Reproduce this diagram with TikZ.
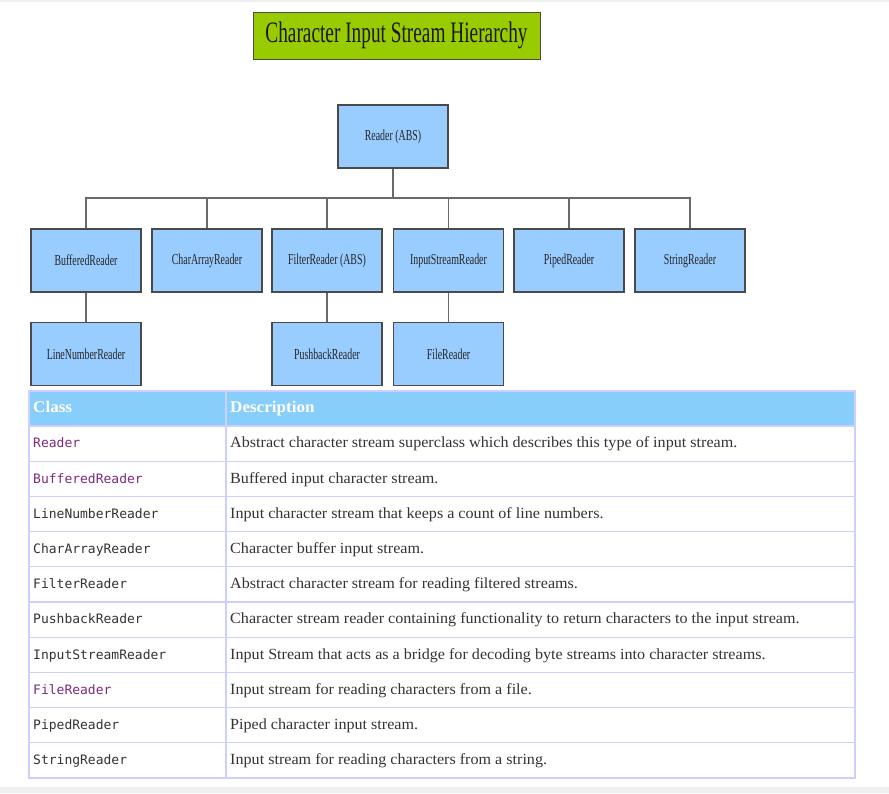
\documentclass[tikz,border=0pt]{standalone}
\usepackage{fontspec}
\setmainfont{Liberation Serif}
\newfontfamily\narrowfont[FakeStretch=0.65]{Liberation Serif}
\newfontfamily\widefont[FakeStretch=1.04]{Liberation Serif}
\newfontfamily\codefont{DejaVu Sans Mono}
\definecolor{titlefill}{HTML}{99CC00}
\definecolor{boxfill}{HTML}{99CCFF}
\definecolor{boxline}{HTML}{4A4A4A}
\definecolor{linkgray}{HTML}{6A6A6A}
\definecolor{headfill}{HTML}{87CEFA}
\definecolor{gridline}{HTML}{CFCFFF}
\definecolor{visited}{HTML}{7D2A7D}
\definecolor{bodytext}{HTML}{333333}
\definecolor{stripgray}{HTML}{EFEFEF}
\tikzset{
  titlebox/.style={draw=boxline, fill=titlefill, line width=1pt, minimum width=287pt, minimum height=47pt, inner sep=0pt, font=\narrowfont\fontsize{29.7}{32}\selectfont, text=black!90},
  classbox/.style={draw=boxline, fill=boxfill, line width=1.1pt, minimum width=110pt, minimum height=63pt, inner sep=0pt, font=\narrowfont\fontsize{15.2}{17}\selectfont, text=black!85},
  link/.style={draw=linkgray, line width=1.8pt},
  headtext/.style={anchor=base west, inner sep=0pt, text=white, font=\widefont\bfseries\fontsize{16.4}{18}\selectfont},
  codetext/.style={anchor=base west, inner sep=0pt, text=bodytext, font=\codefont\fontsize{13}{15}\selectfont},
  desctext/.style={anchor=base west, inner sep=0pt, text=bodytext, font=\widefont\fontsize{15.5}{18}\selectfont},
  grid/.style={draw=gridline, line width=1.3pt}
}
\begin{document}
\begin{tikzpicture}[x=1pt,y=-1pt]
\useasboundingbox (0,0) rectangle (889,793);
\fill[white] (0,0) rectangle (889,793);
\fill[stripgray] (0,0) rectangle (889,2);
\fill[stripgray] (0,787) rectangle (889,793);

% title
\node[titlebox] (title) at (396.5,35.5) {Character Input Stream Hierarchy};

% tree
\node[classbox] (reader) at (393,136.5) {Reader (ABS)};
\node[classbox] (buffered) at (86,260.5) {BufferedReader};
\node[classbox] (chararray) at (207,260.5) {CharArrayReader};
\node[classbox] (filter) at (327,260.5) {FilterReader (ABS)};
\node[classbox] (isr) at (448.5,260.5) {InputStreamReader};
\node[classbox] (piped) at (569,260.5) {PipedReader};
\node[classbox] (string) at (690,260.5) {StringReader};
\node[classbox] (linenum) at (86,354) {LineNumberReader};
\node[classbox] (pushback) at (327,354) {PushbackReader};
\node[classbox] (file) at (448.5,354) {FileReader};

\coordinate (bus) at (393,198);
\draw[link] (reader.south) -- (bus);
\foreach \c in {buffered,chararray,filter,isr,piped,string}
  \draw[link] (bus) -| (\c.north);
\draw[link] (buffered.south) -- (linenum.north);
\draw[link] (filter.south) -- (pushback.north);
\draw[link] (isr.south) -- (file.north);

% table
\fill[headfill] (29,391) rectangle (855,426);
\foreach \i in {1,...,9}
  \draw[grid] (29,{426+35.2*\i}) -- (855,{426+35.2*\i});
\draw[grid] (29,426) -- (855,426);
\draw[grid] (226,391) -- (226,778);
\draw[grid] (29,391) rectangle (855,778);

\node[headtext] (hclass) at (33,412) {Class};
\node[headtext] (hdesc) at (230,412) {Description};

\foreach \n/\cls/\col/\desc [count=\i from 0] in {
  c1/Reader/visited/{Abstract character stream superclass which describes this type of input stream.},
  c2/BufferedReader/visited/{Buffered input character stream.},
  c3/LineNumberReader/bodytext/{Input character stream that keeps a count of line numbers.},
  c4/CharArrayReader/bodytext/{Character buffer input stream.},
  c5/FilterReader/bodytext/{Abstract character stream for reading filtered streams.},
  c6/PushbackReader/bodytext/{Character stream reader containing functionality to return characters to the input stream.},
  c7/InputStreamReader/bodytext/{Input Stream that acts as a bridge for decoding byte streams into character streams.},
  c8/FileReader/visited/{Input stream for reading characters from a file.},
  c9/PipedReader/bodytext/{Piped character input stream.},
  c10/StringReader/bodytext/{Input stream for reading characters from a string.}} {
  \node[codetext, text=\col] (\n-class) at (33,{426+35.2*\i+17.6+4.3}) {\cls};
  \node[desctext] (\n-desc) at (230,{426+35.2*\i+17.6+4.3}) {\desc};
}
\end{tikzpicture}
\end{document}
